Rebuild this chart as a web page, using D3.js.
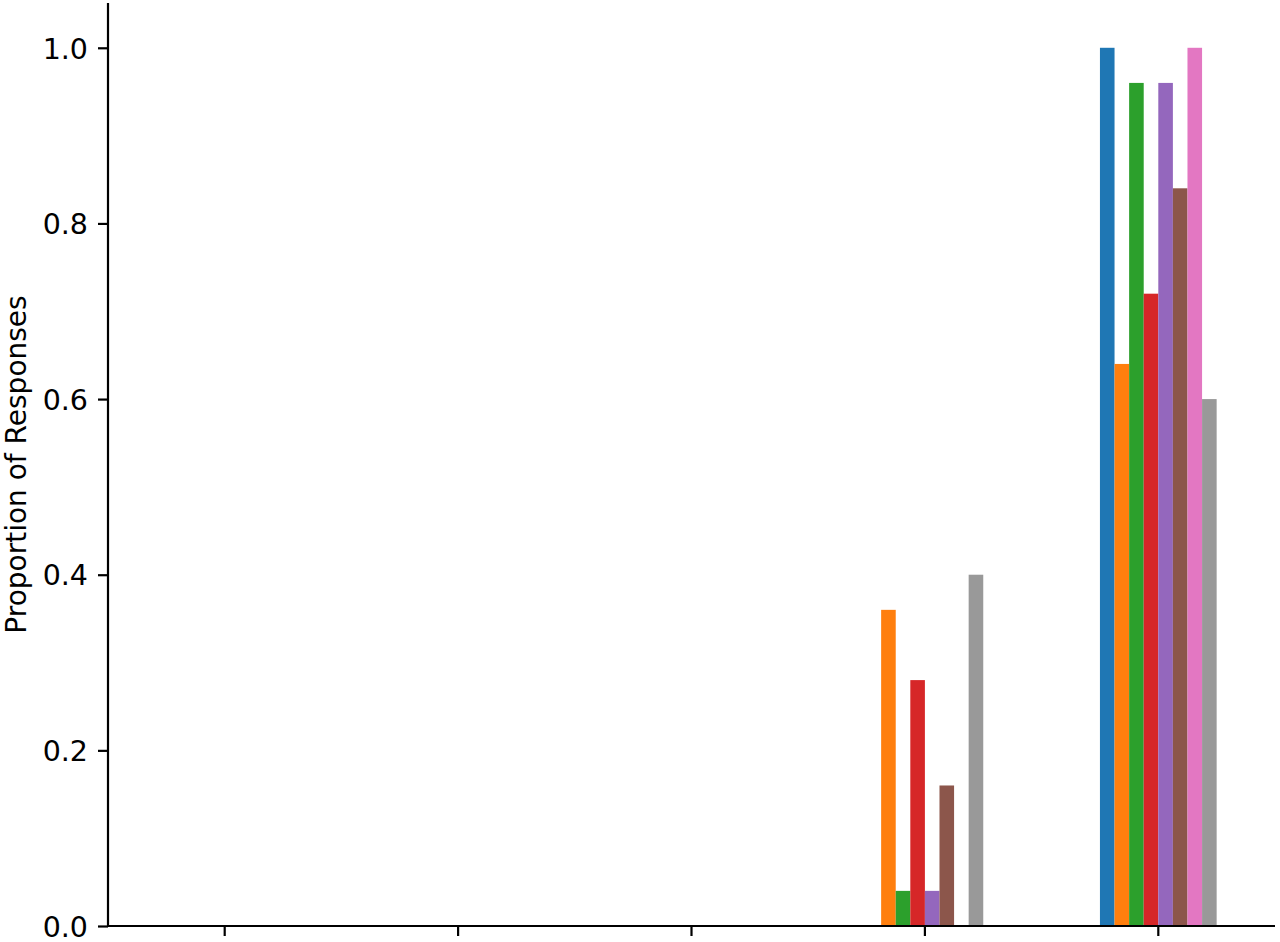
<!DOCTYPE html>
<html>
<head>
<meta charset="utf-8">
<script src="https://cdn.jsdelivr.net/npm/d3@7"></script>
<style>
  body { margin: 0; background: #fff; }
  svg text { font-family: "DejaVu Sans", sans-serif; fill: #000; }
</style>
</head>
<body>
<div id="chart"></div>
<script>
// chart settings
var svgWidth = 1280;
var svgHeight = 942;
var margin = { top: 3, right: 5, bottom: 16, left: 108 };
var width = svgWidth - margin.left - margin.right;
var height = svgHeight - margin.top - margin.bottom;

// data (categories have no visible labels)
var categories = ["c1", "c2", "c3", "c4", "c5"];
var seriesNames = ["s1", "s2", "s3", "s4", "s5", "s6", "s7", "s8"];
var seriesColors = ["#1f77b4", "#ff7f0e", "#2ca02c", "#d62728", "#9467bd", "#8c564b", "#e377c2", "#999999"];
// values[series][category]
var values = [
  [0, 0, 0, 0,    1.00],
  [0, 0, 0, 0.36, 0.64],
  [0, 0, 0, 0.04, 0.96],
  [0, 0, 0, 0.28, 0.72],
  [0, 0, 0, 0.04, 0.96],
  [0, 0, 0, 0.16, 0.84],
  [0, 0, 0, 0,    1.00],
  [0, 0, 0, 0.40, 0.60]
];
var yTicks = [0, 0.2, 0.4, 0.6, 0.8, 1.0];

var svg = d3.select("#chart")
  .append("svg")
  .attr("width", svgWidth)
  .attr("height", svgHeight);

var chartGroup = svg.append("g")
  .attr("transform", `translate(${margin.left}, ${margin.top})`);

// scales
var xScale = d3.scaleBand()
  .domain(categories)
  .range([0, width]);

var groupWidth = xScale.bandwidth() * 0.5;
var xInner = d3.scaleBand()
  .domain(seriesNames)
  .range([0, groupWidth]);

var yScale = d3.scaleLinear()
  .domain([0, 1.051])
  .range([height, 0]);

// bars
var flat = [];
seriesNames.forEach(function(s, i) {
  categories.forEach(function(c, j) {
    flat.push({ series: s, cat: c, value: values[i][j], color: seriesColors[i] });
  });
});

chartGroup.selectAll("rect.bar")
  .data(flat.filter(d => d.value > 0))
  .enter()
  .append("rect")
  .attr("class", "bar")
  .attr("x", d => xScale(d.cat) + (xScale.bandwidth() - groupWidth) / 2 + xInner(d.series))
  .attr("width", xInner.bandwidth())
  .attr("y", d => yScale(d.value))
  .attr("height", d => yScale(0) - yScale(d.value))
  .attr("fill", d => d.color);

// axes
var bottomAxis = d3.axisBottom(xScale).tickSize(10).tickFormat("");
var leftAxis = d3.axisLeft(yScale).tickValues(yTicks).tickSize(10).tickPadding(10).tickFormat(d3.format(".1f"));

var xg = chartGroup.append("g")
  .attr("transform", `translate(0, ${height})`)
  .call(bottomAxis);

var yg = chartGroup.append("g")
  .call(leftAxis);

[xg, yg].forEach(function(g) {
  g.select(".domain").attr("stroke", "#000").attr("stroke-width", 2.2)
    .attr("d", g === xg ? `M0,0H${width}` : `M0,0V${height}`);
  g.selectAll(".tick line").attr("stroke", "#000").attr("stroke-width", 2.2);
  g.selectAll(".tick text").style("font-size", "28.5px").attr("font-family", "DejaVu Sans");
});
yg.selectAll(".tick text").attr("dy", "0.36em");

// axis label
svg.append("text")
  .attr("transform", `translate(26, ${margin.top + height / 2}) rotate(-90)`)
  .attr("text-anchor", "middle")
  .style("font-size", "28px")
  .text("Proportion of Responses");
</script>
</body>
</html>
